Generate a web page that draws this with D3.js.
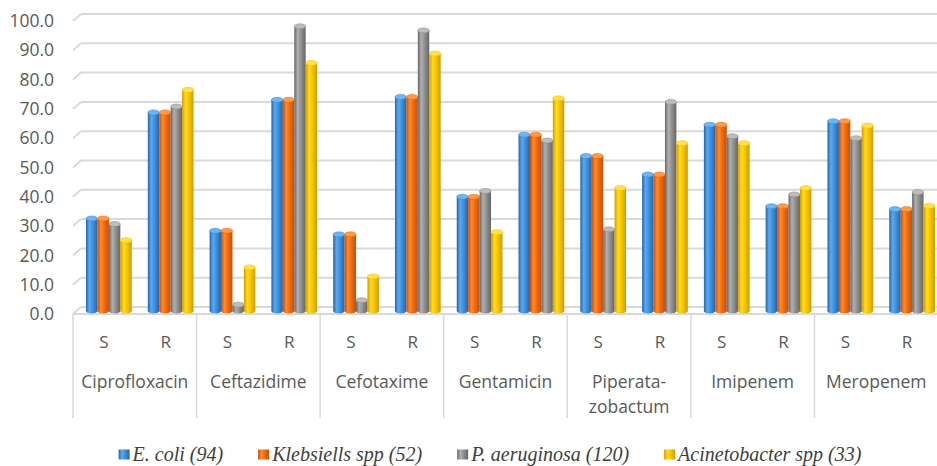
<!DOCTYPE html>
<html>
<head>
<meta charset="utf-8">
<script src="https://cdn.jsdelivr.net/npm/d3@7"></script>
<style>
  body { margin: 0; background: #fff; }
  svg { display: block; }
</style>
</head>
<body>
<div id="root"></div>
<script>
let drugs = ['Ciprofloxacin', 'Ceftazidime', 'Cefotaxime', 'Gentamicin', 'Piperata-\nzobactum', 'Imipenem', 'Meropenem']
let results = ['S', 'R']
let seriesNames = ['E. coli (94)', 'Klebsiells spp (52)', 'P. aeruginosa (120)', 'Acinetobacter spp (33)']
let yTicks = [0, 10, 20, 30, 40, 50, 60, 70, 80, 90, 100]

// one value per drug/result pair: Cipro S, Cipro R, Ceftaz S, ...
let ecoli = [31.4, 67.6, 27.2, 71.9, 26.0, 72.9, 38.8, 60.0, 52.7, 46.4, 63.4, 35.6, 64.6, 34.6]
let klebs = [31.4, 67.6, 27.2, 71.9, 26.0, 72.9, 38.8, 60.0, 52.7, 46.4, 63.4, 35.6, 64.6, 34.6]
let paeru = [29.5, 69.6, 2.0, 97.0, 3.5, 95.6, 40.8, 58.0, 27.7, 71.2, 59.5, 39.6, 58.8, 40.4]
let acine = [24.0, 75.3, 14.7, 84.5, 11.6, 87.7, 26.7, 72.4, 41.8, 57.1, 57.1, 41.8, 63.1, 35.7]
let series = [ecoli, klebs, paeru, acine]

let colors = [
  {dark: '#2464a8', mid: '#3d8fdc', light: '#5aaaf0', cap: '#6db6f2'},
  {dark: '#c4500a', mid: '#f06a10', light: '#ff8a2a', cap: '#ff9a45'},
  {dark: '#666666', mid: '#8f8f8f', light: '#b0b0b0', cap: '#bdbdbd'},
  {dark: '#d49a00', mid: '#f5c400', light: '#ffdc1a', cap: '#ffe24a'}
]

let W = 937, H = 466
document.getElementById('root').innerHTML += `<svg width=${W} height=${H}></svg>`
let svg = d3.select('svg')

let left = 73, right = 938
let dx = 8, dy = -7
let y = d3.scaleLinear().domain([0, 100]).range([314, 21])

let cats = []
drugs.forEach((d, i) => results.forEach(r => cats.push(i + '-' + r)))
let x0 = d3.scaleBand().domain(cats).range([left, right])
let x1 = d3.scaleBand().domain(d3.range(series.length))
           .range([0, x0.bandwidth() * 0.74])
let barOff = (x0.bandwidth() - x0.bandwidth() * 0.74) / 2 + 5

// gradients for the cylinders
let defs = svg.append('defs')
colors.forEach((c, i) => {
  let g = defs.append('linearGradient').attr('id', 'g' + i)
              .attr('x1', 0).attr('x2', 1).attr('y1', 0).attr('y2', 0)
  g.append('stop').attr('offset', '0%').attr('stop-color', c.dark)
  g.append('stop').attr('offset', '30%').attr('stop-color', c.light)
  g.append('stop').attr('offset', '60%').attr('stop-color', c.mid)
  g.append('stop').attr('offset', '100%').attr('stop-color', c.dark)
})

// side wall ticks + back wall gridlines
svg.append('g').selectAll('line.side')
   .data(yTicks).enter()
   .append('line')
   .attr('x1', left).attr('y1', d => y(d))
   .attr('x2', left + dx).attr('y2', d => y(d) + dy)
   .attr('stroke', '#d9d9d9').attr('stroke-width', 2)
svg.append('g').selectAll('line.grid')
   .data(yTicks).enter()
   .append('line')
   .attr('x1', left + dx).attr('y1', d => y(d) + dy)
   .attr('x2', W).attr('y2', d => y(d) + dy)
   .attr('stroke', '#d9d9d9').attr('stroke-width', 2)

// floor front edge
svg.append('line')
   .attr('x1', left).attr('x2', W)
   .attr('y1', y(0)).attr('y2', y(0))
   .attr('stroke', '#d9d9d9').attr('stroke-width', 2)

// y labels
svg.append('g').selectAll('text')
   .data(yTicks).enter()
   .append('text')
   .attr('x', 54).attr('y', d => y(d) + 1.5)
   .attr('text-anchor', 'end').attr('dominant-baseline', 'middle')
   .attr('font-family', 'Open Sans').attr('font-size', 17.5)
   .attr('fill', '#595959')
   .text(d => d.toFixed(1))

// bars
let base = y(0) - 3
let bw = x1.bandwidth()
series.forEach((vals, si) => {
  let g = svg.append('g')
  let bars = g.selectAll('g')
              .data(vals).enter()
              .append('g')
              .attr('transform', (d, i) => `translate(${x0(cats[i]) + barOff + x1(si)}, 0)`)
  bars.append('ellipse')
      .attr('cx', bw / 2).attr('cy', base)
      .attr('rx', bw / 2).attr('ry', 2.5)
      .attr('fill', `url(#g${si})`)
  bars.append('rect')
      .attr('x', 0).attr('y', d => y(d) - 3.5)
      .attr('width', bw).attr('height', d => base - (y(d) - 3.5))
      .attr('fill', `url(#g${si})`)
  bars.append('ellipse')
      .attr('cx', bw / 2).attr('cy', d => y(d) - 3.5)
      .attr('rx', bw / 2).attr('ry', 2.5)
      .attr('fill', colors[si].cap)
      .attr('stroke', colors[si].mid).attr('stroke-width', 0.6)
})

// category separators
let groupW = x0.bandwidth() * 2
svg.append('g').selectAll('line')
   .data(d3.range(drugs.length + 1)).enter()
   .append('line')
   .attr('x1', d => left + d * groupW).attr('x2', d => left + d * groupW)
   .attr('y1', y(0)).attr('y2', 418)
   .attr('stroke', '#d9d9d9').attr('stroke-width', 1.5)

// S / R labels
svg.append('g').selectAll('text')
   .data(cats).enter()
   .append('text')
   .attr('x', d => x0(d) + x0.bandwidth() / 2)
   .attr('y', 348)
   .attr('text-anchor', 'middle')
   .attr('font-family', 'Open Sans').attr('font-size', 17)
   .attr('fill', '#595959')
   .text(d => d.split('-')[1])

// drug labels
let dl = svg.append('g').selectAll('text')
            .data(drugs).enter()
            .append('text')
            .attr('text-anchor', 'middle')
            .attr('font-family', 'Open Sans').attr('font-size', 17.5)
            .attr('fill', '#595959')
dl.each(function(d, i) {
  let t = d3.select(this)
  d.split('\n').forEach((s, j) => {
    t.append('tspan')
     .attr('x', left + (i + 0.5) * groupW)
     .attr('y', 388 + j * 25)
     .text(s)
  })
})

// legend
let leg = svg.append('g')
let items = leg.selectAll('g')
               .data(seriesNames).enter()
               .append('g')
items.append('text')
     .attr('x', 14).attr('y', 461)
     .attr('font-family', 'Liberation Serif').attr('font-style', 'italic')
     .attr('font-size', 20).attr('fill', '#404040')
     .text(d => d)
items.append('rect')
     .attr('x', 0).attr('y', 449.5)
     .attr('width', 11).attr('height', 10)
     .attr('fill', (d, i) => `url(#g${i})`)
let widths = []
items.select('text').each(function() { widths.push(14 + this.getComputedTextLength()) })
let gap = 35
let total = d3.sum(widths) + gap * (widths.length - 1)
let lx = 490 - total / 2
items.attr('transform', (d, i) => {
  let t = `translate(${lx}, 0)`
  lx += widths[i] + gap
  return t
})
</script>
</body>
</html>
